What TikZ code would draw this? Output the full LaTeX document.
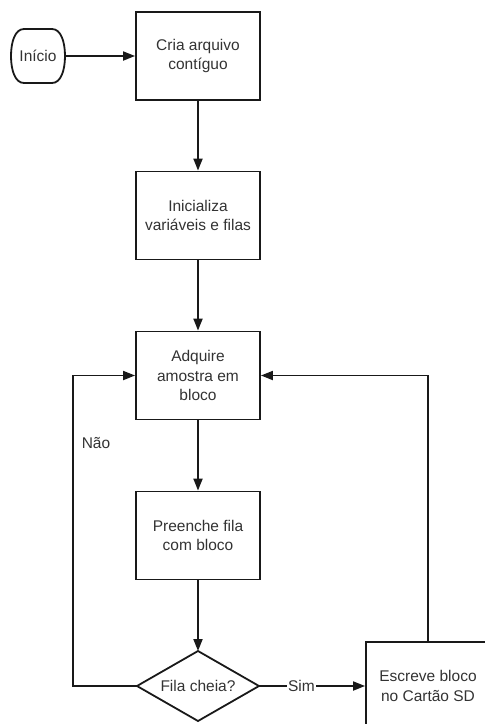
\documentclass[tikz,border=0pt]{standalone}
\usepackage{fontspec}
\setmainfont{Liberation Sans}
\usetikzlibrary{arrows.meta,calc}
\begin{document}
\begin{tikzpicture}[x=1pt,y=-1pt,
  every node/.style={font=\fontsize{15.5}{19.5}\selectfont, text=black!80},
  proc/.style={draw=black!90, line width=1.8pt, minimum width=124pt, minimum height=88pt, align=center, inner sep=2pt, fill=white},
  conn/.style={draw=black!90, line width=1.8pt, -{Triangle[length=12pt,width=9pt]}},
  plain/.style={draw=black!90, line width=1.8pt}
]
\useasboundingbox (0,0) rectangle (485,724);
\clip (0,0) rectangle (485,724);
% start terminator
\node[minimum width=54pt, minimum height=54pt, inner sep=0pt] (ini) at (38,56) {Início};
\draw[plain] (24,29) -- (52,29) .. controls (61,29) and (65,42) .. (65,56) .. controls (65,70) and (61,83) .. (52,83) -- (24,83) .. controls (15,83) and (11,70) .. (11,56) .. controls (11,42) and (15,29) .. (24,29) -- cycle;
% process boxes
\node[proc] (b1) at (198,56) {Cria arquivo\\contíguo};
\node[proc] (b2) at (198,215.5) {Inicializa\\variáveis e filas};
\node[proc] (b3) at (198,375.5) {Adquire\\amostra em\\bloco};
\node[proc] (b4) at (198,535.5) {Preenche fila\\com bloco};
\node[proc] (b5) at (428,686) {Escreve bloco\\no Cartão SD};
% decision
\node[inner sep=0pt] (dec) at (198,686) {Fila cheia?};
\coordinate (dt) at (198,651);
\coordinate (db) at (198,721);
\coordinate (dl) at (137,686);
\coordinate (dr) at (259,686);
\draw[plain, line join=miter] (dt) -- (dr) -- (db) -- (dl) -- cycle;
% connectors
\draw[conn] (65,56) -- (b1.west);
\draw[conn] (b1.south) -- (b2.north);
\draw[conn] (b2.south) -- (b3.north);
\draw[conn] (b3.south) -- (b4.north);
\draw[conn] (b4.south) -- (dt);
\coordinate (lft) at (73,686);
\draw[conn] (dl) -- (lft) |- (b3.west);
\draw[conn] (b5.north) |- (b3.east);
\draw[conn] (dr) -- (b5.west) node[pos=0.4, fill=white, inner sep=1pt] (sim) {Sim};
\node (nao) at (96,443) {Não};
\end{tikzpicture}
\end{document}
